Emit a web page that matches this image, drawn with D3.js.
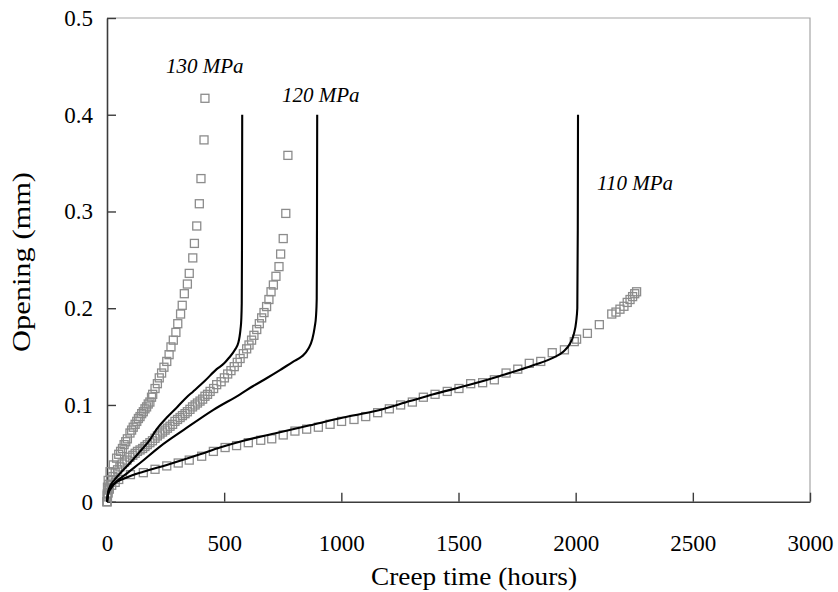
<!DOCTYPE html>
<html><head><meta charset="utf-8">
<script src="https://cdn.jsdelivr.net/npm/d3@7"></script>
<style>html,body{margin:0;padding:0;background:#fff;}svg{display:block;}</style>
</head><body>
<svg id="chart" width="838" height="592"></svg>
<script>
// ---- data ----
const xTicks = [0, 500, 1000, 1500, 2000, 2500, 3000];
const yTicks = [0, 0.1, 0.2, 0.3, 0.4, 0.5];
const stressLabels = ["130 MPa", "120 MPa", "110 MPa"];
const stressLabelPos = [[252, 0.443], [747, 0.413], [2091, 0.322]];

// experimental points (squares)
const expT130 = [0,1,2,5,13,27,41,50,58,66,73,80,87,98,105,112,120,127,134,141,148,155,162,169,176,183,190,195,205,215,223,233,243,255,265,273,283,294,302,314,321,330,343,351,366,373,383,394,401,414,418];
const expV130 = [0,0.008,0.015,0.022,0.031,0.038,0.045,0.049,0.052,0.055,0.059,0.062,0.065,0.071,0.074,0.077,0.080,0.083,0.086,0.088,0.091,0.093,0.096,0.098,0.101,0.103,0.108,0.111,0.117,0.122,0.128,0.133,0.139,0.145,0.152,0.160,0.167,0.175,0.184,0.194,0.203,0.215,0.225,0.236,0.252,0.267,0.285,0.308,0.334,0.374,0.417];

const expT120 = [0,1,3,8,15,25,35,45,55,65,75,85,98,110,120,130,141,152,162,172,183,194,205,215,226,237,248,258,269,280,290,301,312,322,333,343,354,365,376,386,397,408,418,429,440,455,468,487,501,515,529,543,556,568,582,596,606,617,627,639,650,660,670,681,691,700,710,721,734,741,752,763,772];
const expV120 = [0,0.006,0.012,0.018,0.022,0.026,0.030,0.033,0.036,0.039,0.041,0.043,0.046,0.048,0.050,0.052,0.0535,0.055,0.057,0.059,0.061,0.063,0.0656,0.068,0.070,0.072,0.074,0.076,0.078,0.080,0.083,0.085,0.087,0.089,0.091,0.093,0.0955,0.098,0.100,0.102,0.104,0.106,0.109,0.111,0.114,0.117,0.121,0.124,0.128,0.132,0.1355,0.1396,0.144,0.148,0.153,0.158,0.162,0.167,0.172,0.178,0.184,0.190,0.1955,0.2017,0.209,0.217,0.224,0.233,0.243,0.256,0.272,0.298,0.358];

const expT110 = [0,2,5,10,20,35,50,100,155,205,255,304,351,404,454,504,553,603,656,703,752,802,852,902,952,1001,1054,1104,1155,1205,1253,1303,1350,1400,1452,1502,1552,1603,1653,1703,1753,1802,1851,1900,1952,1994,2004,2050,2101,2154,2172,2189,2206,2220,2232,2243,2252,2260];
const expV110 = [0,0.005,0.009,0.013,0.017,0.020,0.023,0.028,0.030,0.0335,0.037,0.040,0.043,0.047,0.052,0.056,0.058,0.061,0.0635,0.065,0.069,0.073,0.075,0.077,0.080,0.083,0.085,0.088,0.092,0.096,0.100,0.103,0.108,0.111,0.114,0.117,0.122,0.123,0.126,0.133,0.137,0.143,0.145,0.154,0.157,0.1655,0.168,0.174,0.183,0.194,0.196,0.199,0.202,0.206,0.209,0.212,0.215,0.217];

// model curves (lines)
const modT130 = [0,5,15,30,55,98,141,183,212,255,300,340,368,418,468,500,518,546,560,566,570,573,575,576,577];
const modV130 = [0,0.010,0.017,0.022,0.029,0.040,0.052,0.064,0.075,0.087,0.098,0.108,0.114,0.125,0.137,0.143,0.148,0.157,0.164,0.171,0.179,0.188,0.205,0.26,0.4];

const modT120 = [0,5,27,84,141,226,326,454,568,624,681,738,795,831,859,876,886,892,895,896,897];
const modV120 = [0,0.008,0.017,0.029,0.040,0.057,0.074,0.095,0.111,0.1196,0.1276,0.136,0.1448,0.150,0.158,0.168,0.180,0.192,0.21,0.28,0.4];

const modT110 = [0,6,27,84,155,255,397,482,582,724,866,1008,1151,1293,1393,1535,1677,1819,1905,1947,1976,1993,2002,2007,2009,2010];
const modV110 = [0,0.010,0.018,0.025,0.031,0.038,0.049,0.056,0.063,0.071,0.079,0.087,0.094,0.104,0.111,0.120,0.130,0.141,0.149,0.155,0.1635,0.174,0.186,0.20,0.28,0.4];

// ---- drawing ----
const svg = d3.select("#chart");
const x = d3.scaleLinear().domain([0, 3000]).range([107, 810]);
const y = d3.scaleLinear().domain([0, 0.5]).range([501.7, 18]);
const font = "'Liberation Serif', 'Times New Roman', serif";

// frame (top/right light)
svg.append("path")
  .attr("d", `M${x(0)},${y(0.5)}H${x(3000)}V${y(0)}`)
  .attr("fill", "none").attr("stroke", "#a6a6a6").attr("stroke-width", 1.2);

// axes
const xAxis = d3.axisBottom(x).tickValues(xTicks).tickSizeInner(-9).tickSizeOuter(0).tickFormat(d3.format("d"));
const gx = svg.append("g").attr("transform", `translate(0,${y(0)})`).call(xAxis);
gx.select(".domain").attr("stroke", "#3c3c3c").attr("stroke-width", 1.6);
gx.selectAll(".tick line").attr("stroke", "#3c3c3c").attr("stroke-width", 1.4);
gx.selectAll(".tick text").attr("font-family", font).attr("font-size", 23).attr("fill", "#000").attr("y", 42).attr("dy", "0.32em");

const yAxis = d3.axisLeft(y).tickValues(yTicks).tickSizeInner(-9).tickSizeOuter(0).tickFormat(d => d === 0 ? "0" : d3.format(".1f")(d));
const gy = svg.append("g").attr("transform", `translate(${x(0)},0)`).call(yAxis);
gy.select(".domain").attr("stroke", "#3c3c3c").attr("stroke-width", 1.6);
gy.selectAll(".tick line").attr("stroke", "#3c3c3c").attr("stroke-width", 1.4);
gy.selectAll(".tick text").attr("font-family", font).attr("font-size", 23).attr("fill", "#000").attr("x", -14);

// axis titles
svg.append("text").attr("x", 474).attr("y", 585).attr("text-anchor", "middle")
  .attr("font-family", font).attr("font-size", 26)
  .attr("textLength", 206).attr("lengthAdjust", "spacingAndGlyphs")
  .text("Creep time (hours)");
svg.append("text").attr("transform", "translate(30,262) rotate(-90)").attr("text-anchor", "middle")
  .attr("font-family", font).attr("font-size", 26)
  .attr("textLength", 180).attr("lengthAdjust", "spacingAndGlyphs")
  .text("Opening (mm)");

// squares
const sq = 8;
const expSeries = [[expT130, expV130], [expT120, expV120], [expT110, expV110]];
expSeries.forEach(([ts, vs]) => {
  svg.append("g").selectAll("rect").data(ts.map((t, i) => [t, vs[i]])).join("rect")
    .attr("x", d => x(d[0]) - sq / 2).attr("y", d => y(d[1]) - sq / 2)
    .attr("width", sq).attr("height", sq)
    .attr("fill", "none").attr("stroke", "#8c8c8c").attr("stroke-width", 1.3);
});

// model lines
const line = d3.line().x(d => x(d[0])).y(d => y(d[1])).curve(d3.curveMonotoneX);
const modSeries = [[modT130, modV130], [modT120, modV120], [modT110, modV110]];
modSeries.forEach(([ts, vs]) => {
  svg.append("path").datum(ts.map((t, i) => [t, vs[i]]))
    .attr("d", line).attr("fill", "none").attr("stroke", "#000").attr("stroke-width", 2.1);
});

// stress labels
stressLabels.forEach((s, i) => {
  svg.append("text").attr("x", x(stressLabelPos[i][0])).attr("y", y(stressLabelPos[i][1]))
    .attr("font-family", font).attr("font-style", "italic").attr("font-size", 21)
    .attr("text-anchor", "start").text(s);
});
</script>
</body></html>
